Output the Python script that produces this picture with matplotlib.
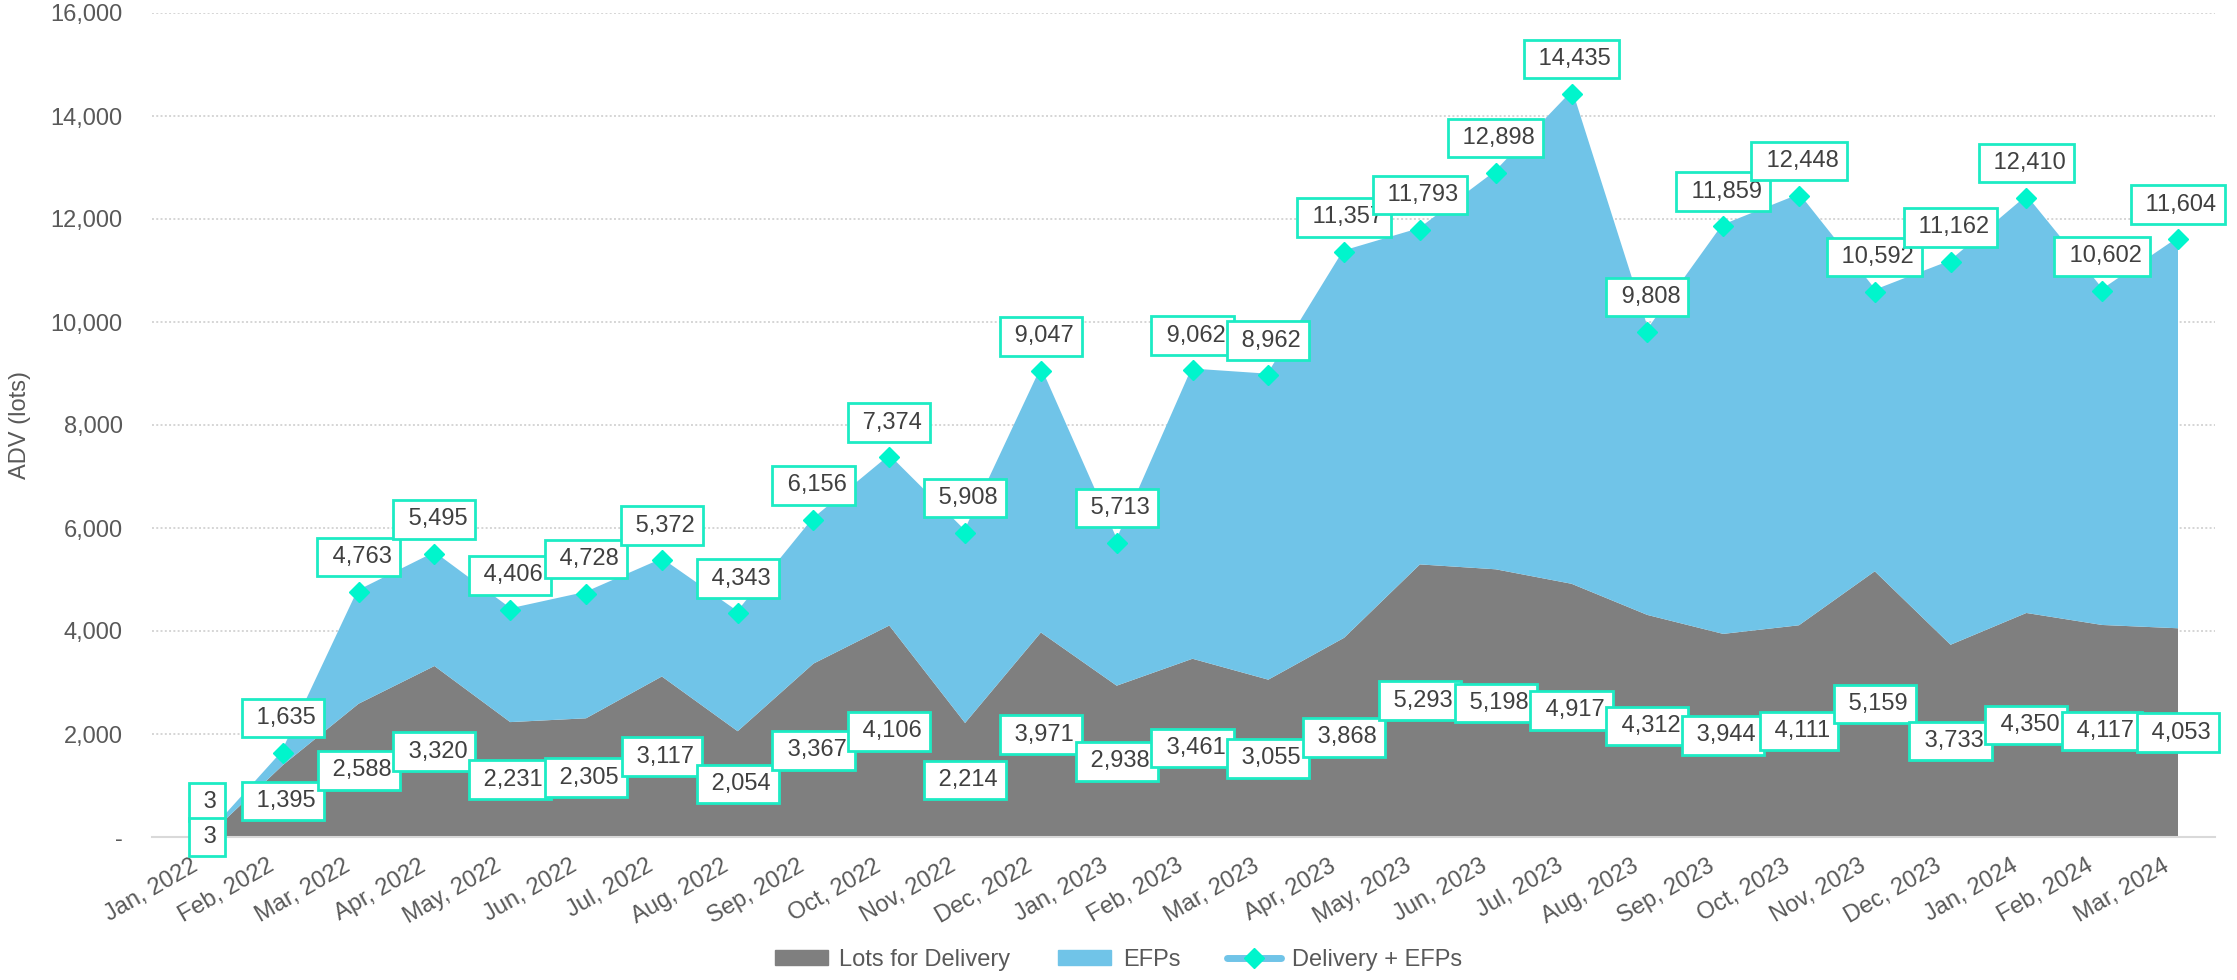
import matplotlib.pyplot as plt
import matplotlib.transforms as mtrans
import numpy as np
from matplotlib.ticker import FuncFormatter
from matplotlib.patches import Patch
from matplotlib.lines import Line2D

plt.rcParams['font.family'] = ['Liberation Sans', 'DejaVu Sans']

months = ["Jan, 2022", "Feb, 2022", "Mar, 2022", "Apr, 2022", "May, 2022", "Jun, 2022",
          "Jul, 2022", "Aug, 2022", "Sep, 2022", "Oct, 2022", "Nov, 2022", "Dec, 2022",
          "Jan, 2023", "Feb, 2023", "Mar, 2023", "Apr, 2023", "May, 2023", "Jun, 2023",
          "Jul, 2023", "Aug, 2023", "Sep, 2023", "Oct, 2023", "Nov, 2023", "Dec, 2023",
          "Jan, 2024", "Feb, 2024", "Mar, 2024"]
delivery = [3, 1395, 2588, 3320, 2231, 2305, 3117, 2054, 3367, 4106, 2214, 3971,
            2938, 3461, 3055, 3868, 5293, 5198, 4917, 4312, 3944, 4111, 5159, 3733,
            4350, 4117, 4053]
total = [3, 1635, 4763, 5495, 4406, 4728, 5372, 4343, 6156, 7374, 5908, 9047,
         5713, 9062, 8962, 11357, 11793, 12898, 14435, 9808, 11859, 12448, 10592, 11162,
         12410, 10602, 11604]

delivery = np.array(delivery)
total = np.array(total)
efps = total - delivery
x = np.arange(len(months))

gray = '#7F7F7F'
blue = '#70C4E8'
teal = '#00F5CC'
edge = '#1DEBC4'
txt = '#404040'
tick_col = '#595959'

fig = plt.figure(figsize=(22.37, 9.8), dpi=100)
ax = fig.add_axes([152/2237, 1-837/980, (2215-152)/2237, (837-13)/980])

ax.stackplot(x, delivery, efps, colors=[gray, blue], linewidth=0)
ax.plot(x, total, color=blue, lw=2.5, marker='D', ms=10, mfc=teal, mec=teal, zorder=3)

box = dict(boxstyle='square,pad=0.35', fc='white', ec=edge, lw=2)
for i in range(len(x)):
    ax.annotate(f" {total[i]:,}", (x[i], total[i]), xytext=(0, 25), textcoords='offset points',
                ha='center', va='center', fontsize=17, color=txt, bbox=box, zorder=5)
    ax.annotate(f" {delivery[i]:,}", (x[i], delivery[i] / 2), ha='center', va='center',
                fontsize=17, color=txt, bbox=box, zorder=5)

step = (2178 - 207) / 26
ax.set_xlim(-(207-152)/step, 26 + (2215-2178)/step)
ax.set_ylim(0, 16000)
ax.set_yticks(np.arange(0, 16001, 2000))
ax.yaxis.set_major_formatter(FuncFormatter(lambda v, p: '-' if v == 0 else f"{int(v):,}"))
ax.set_xticks(x)
ax.set_xticklabels([])

# rotated month labels, top-right corner a bit left of / below each tick
lab_tr = ax.get_xaxis_transform() + mtrans.ScaledTranslation(-16/100, -18/100, fig.dpi_scale_trans)
for i in range(len(x)):
    ax.text(x[i], 0, months[i], transform=lab_tr, rotation=30, rotation_mode='anchor',
            ha='right', va='top', fontsize=17, color=tick_col)

ax.tick_params(axis='both', length=0, labelsize=17, labelcolor=tick_col)
ax.tick_params(axis='y', pad=21)
ax.grid(axis='y', linestyle=(0, (1, 1.2)), color='#D5D5D5', lw=1.4)
ax.set_axisbelow(True)
for s in ['top', 'right', 'left']:
    ax.spines[s].set_visible(False)
ax.spines['bottom'].set_color('#D9D9D9')
ax.spines['bottom'].set_linewidth(1.5)
ax.set_ylabel("ADV (lots)", fontsize=17, color=tick_col)
ax.yaxis.set_label_coords((31-152)/2063, 0.5)

handles = [Patch(color=gray, label='Lots for Delivery'),
           Patch(color=blue, label='EFPs'),
           Line2D([], [], color=blue, lw=5, marker='D', ms=10, mfc=teal, mec=teal,
                  solid_capstyle='round', label='Delivery + EFPs')]
leg = fig.legend(handles=handles, loc='center', bbox_to_anchor=(0.5, 1-960/980), ncol=3,
                 frameon=False, fontsize=17, handlelength=2.25, handleheight=0.6,
                 handletextpad=0.5, columnspacing=2.0)
for t in leg.get_texts():
    t.set_color(tick_col)

fig.savefig("out.png", dpi=100)
